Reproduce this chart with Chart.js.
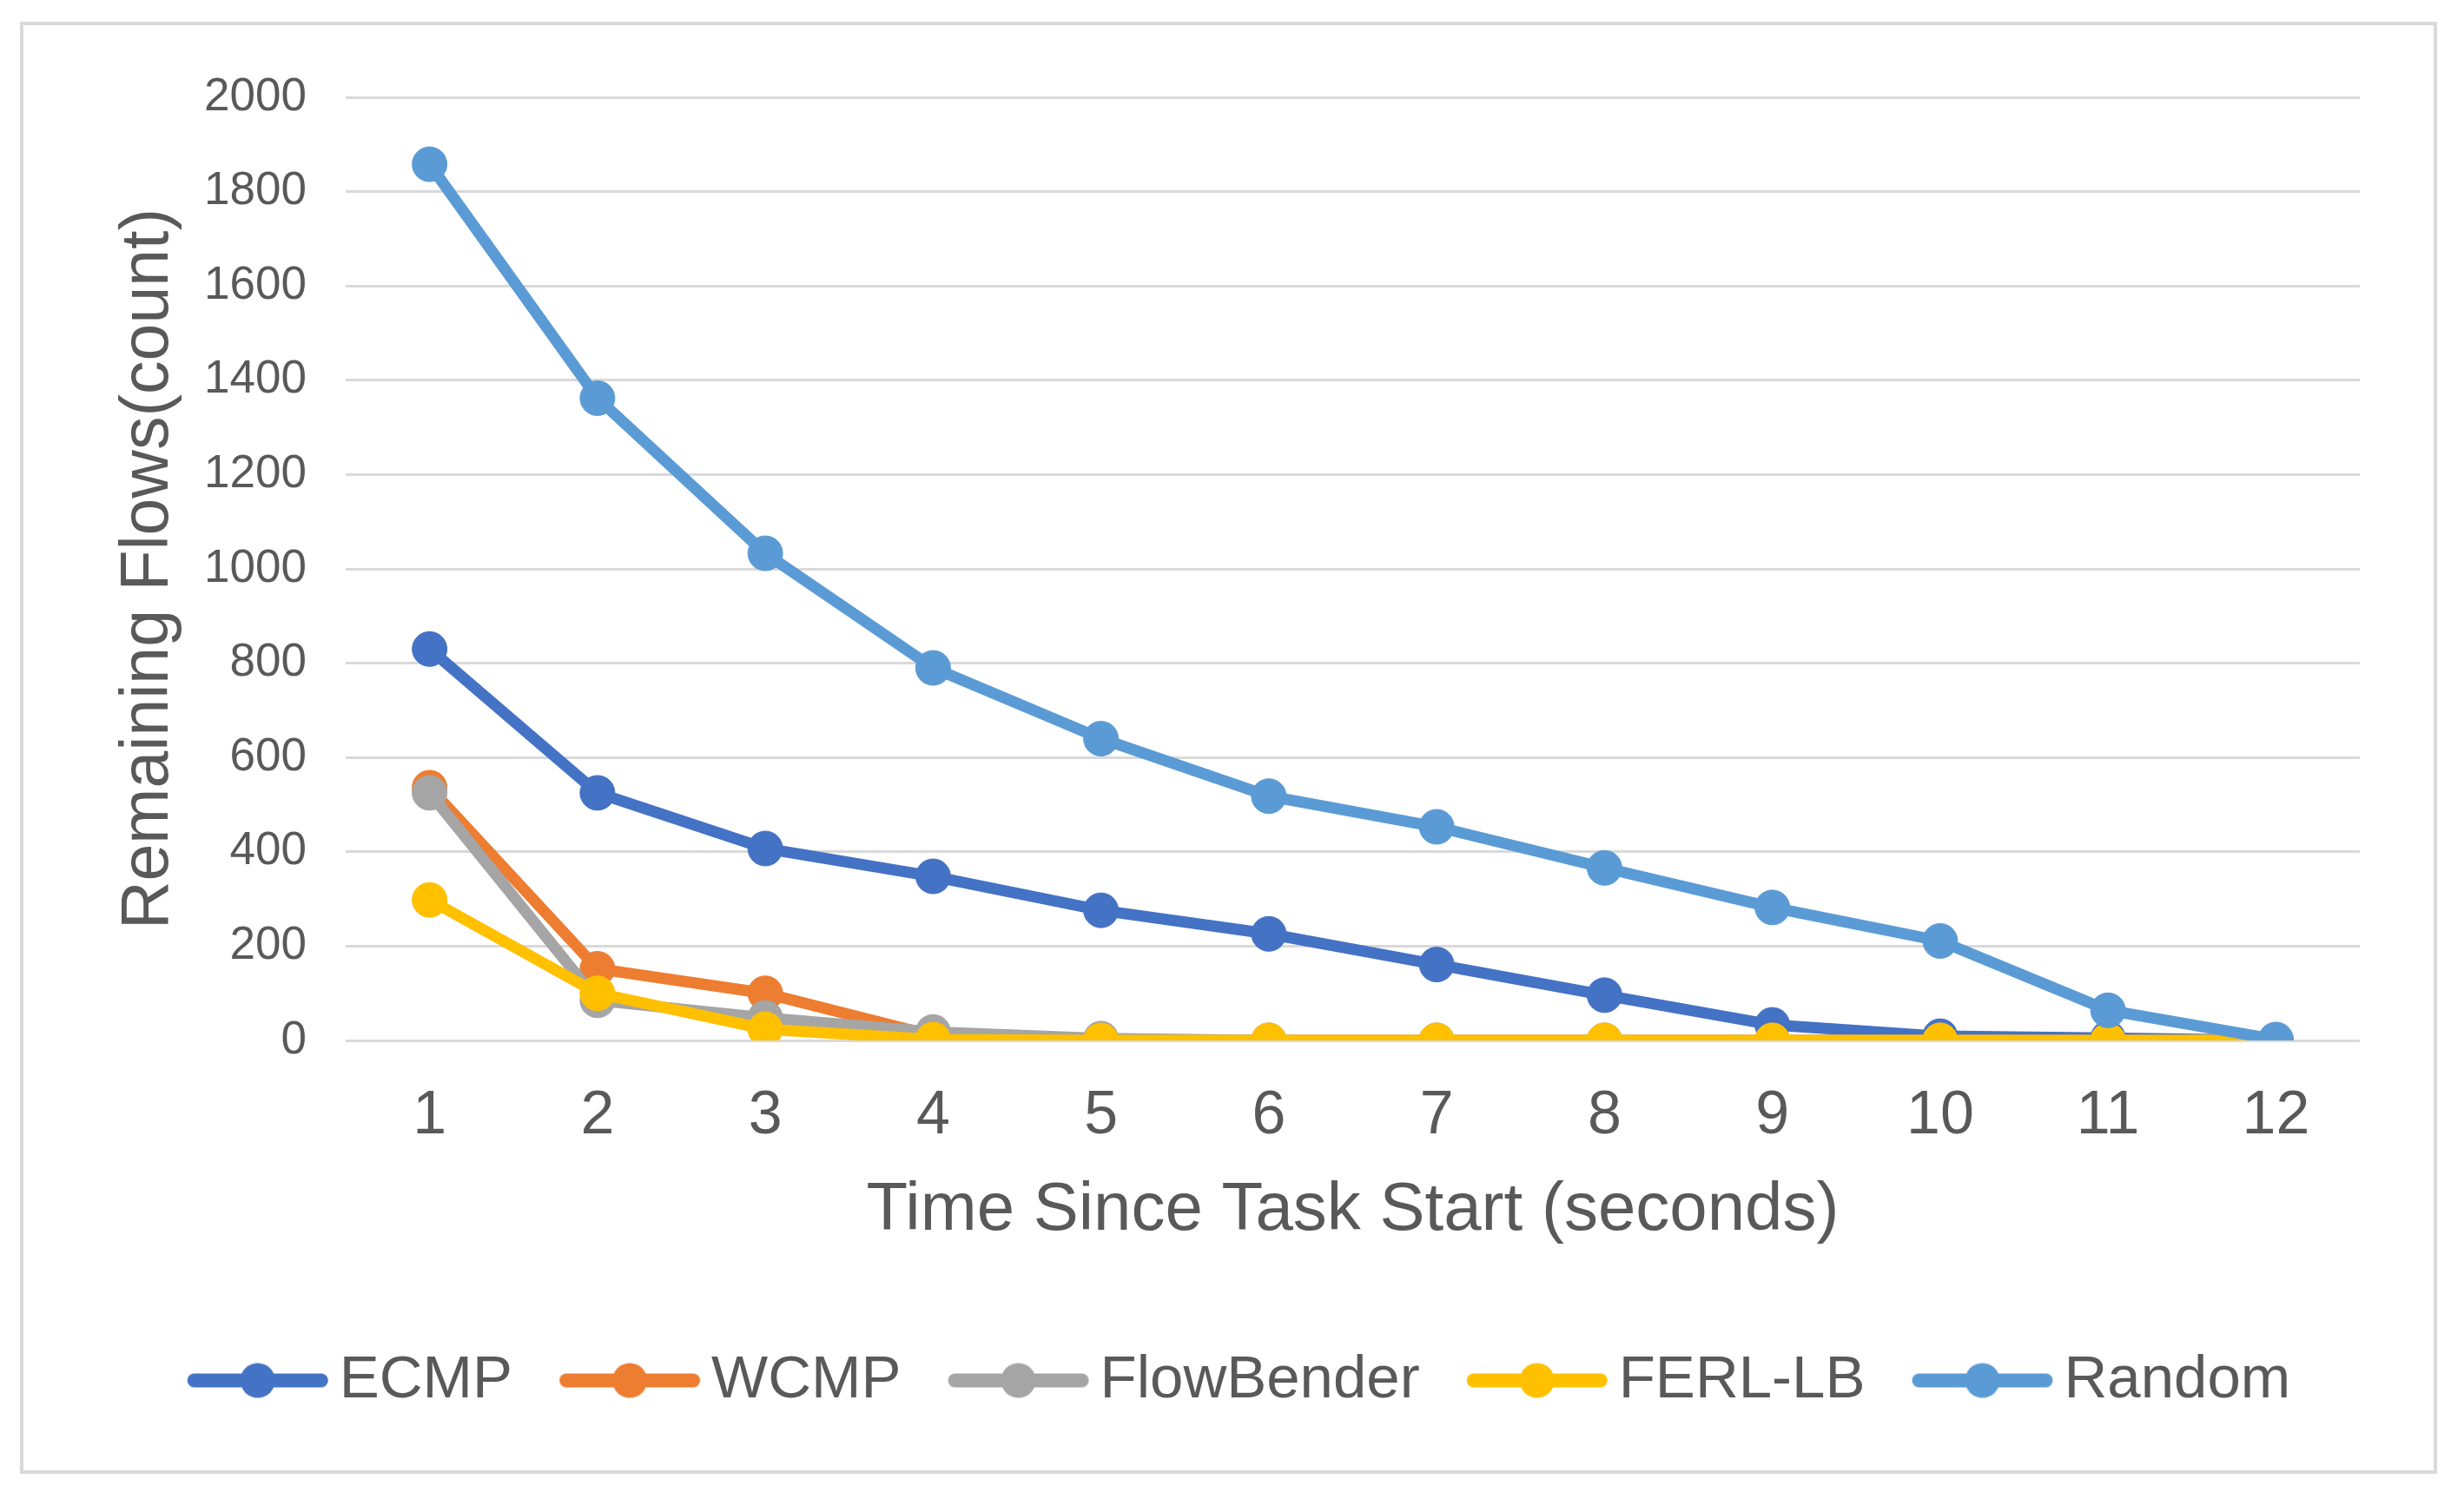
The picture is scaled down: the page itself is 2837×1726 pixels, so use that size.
<!DOCTYPE html>
<html>
<head>
<meta charset="utf-8">
<title>Remaining Flows</title>
<script src="https://cdn.jsdelivr.net/npm/chart.js@4.4.1/dist/chart.umd.min.js"></script>
<style>
  html, body { margin: 0; padding: 0; background: #fff; overflow: hidden; }
  canvas { display: block; }
</style>
</head>
<body>
<canvas id="flowChart" width="2837" height="1726"></canvas>
<script>
var seconds = ["1", "2", "3", "4", "5", "6", "7", "8", "9", "10", "11", "12"];
var ecmp       = [830, 525, 407, 348, 276, 226, 161, 96, 33, 9, 5, 0];
var wcmp       = [536, 152, 100, 10, 2, 0, 0, 0, 0, 0, 0, 0];
var flowBender = [525, 85, 48, 18, 4, 0, 0, 0, 0, 0, 0, 0];
var ferlLb     = [298, 100, 24, 2, 0, 0, 0, 0, 0, 0, 0, 0];
var random     = [1858, 1362, 1033, 790, 640, 518, 453, 366, 282, 211, 64, 2];

var seriesNames  = ["ECMP", "WCMP", "FlowBender", "FERL-LB", "Random"];
var seriesColors = ["#4472C4", "#ED7D31", "#A5A5A5", "#FFC000", "#5B9BD5"];

var textColor = "#595959";
Chart.defaults.font.family = "'Liberation Sans', Arial, sans-serif";
Chart.defaults.color = textColor;

// legend icon: short line with a marker in the middle, like the office legend
function legendIcon(color) {
    var c = document.createElement("canvas");
    c.width = 200;
    c.height = 44;
    var g = c.getContext("2d");
    g.strokeStyle = color;
    g.lineWidth = 16;
    g.lineCap = "round";
    g.beginPath();
    g.moveTo(36.75 + 8, 22);
    g.lineTo(198.75 - 8, 22);
    g.stroke();
    g.fillStyle = color;
    g.beginPath();
    g.arc(117.75, 22, 20, 0, Math.PI * 2);
    g.fill();
    return c;
}
var legendIcons = seriesColors.map(legendIcon);

function makeSeries(i, values) {
    return {
        label: seriesNames[i],
        data: values,
        borderColor: seriesColors[i],
        backgroundColor: seriesColors[i],
        pointBackgroundColor: seriesColors[i],
        pointBorderColor: seriesColors[i],
        borderWidth: 13,
        pointRadius: 20,
        pointHoverRadius: 20,
        pointBorderWidth: 1,
        tension: 0,
        fill: false,
        order: 5 - i
    };
}

var chartBorder = {
    id: "chartBorder",
    beforeDraw: function(chart) {
        var ctx = chart.ctx;
        ctx.save();
        ctx.fillStyle = "#ffffff";
        ctx.fillRect(0, 0, chart.width, chart.height);
        ctx.strokeStyle = "#D9D9D9";
        ctx.lineWidth = 4;
        ctx.strokeRect(25, 27, 2779, 1668);
        ctx.restore();
    }
};

new Chart(document.getElementById("flowChart"), {
    type: "line",
    data: {
        labels: seconds,
        datasets: [
            makeSeries(0, ecmp),
            makeSeries(1, wcmp),
            makeSeries(2, flowBender),
            makeSeries(3, ferlLb),
            makeSeries(4, random)
        ]
    },
    options: {
        responsive: false,
        animation: false,
        devicePixelRatio: 1,
        layout: {
            padding: { left: 122, right: 120, top: 112, bottom: 92 }
        },
        scales: {
            x: {
                offset: true,
                grid: { display: false },
                border: { display: false },
                ticks: {
                    color: textColor,
                    padding: 38,
                    font: { size: 70 }
                },
                title: {
                    display: true,
                    text: "Time Since Task Start (seconds)",
                    color: textColor,
                    font: { size: 78 },
                    padding: { top: 0, bottom: 74 }
                },
                afterFit: function(scale) { scale.height = 317; }
            },
            y: {
                min: 0,
                max: 2000,
                grid: {
                    color: "#D9D9D9",
                    lineWidth: 3,
                    drawTicks: false
                },
                border: { display: false },
                ticks: {
                    stepSize: 200,
                    color: textColor,
                    padding: 45,
                    font: { size: 53 },
                    callback: function(value) {
                        return String(value);
                    }
                },
                title: {
                    display: true,
                    text: "Remaining Flows(count)",
                    color: textColor,
                    font: { size: 77 },
                    padding: { top: 4, bottom: 0 }
                },
                afterFit: function(scale) { scale.width = 276; }
            }
        },
        plugins: {
            legend: {
                position: "bottom",
                labels: {
                    usePointStyle: true,
                    pointStyleWidth: 154.5,
                    padding: 40,
                    color: textColor,
                    font: { size: 69 },
                    sort: function(a, b) { return a.datasetIndex - b.datasetIndex; },
                    generateLabels: function(chart) {
                        var items = Chart.defaults.plugins.legend.labels.generateLabels(chart);
                        items.forEach(function(item) {
                            item.pointStyle = legendIcons[item.datasetIndex];
                        });
                        return items;
                    }
                }
            },
            tooltip: { enabled: false }
        }
    },
    plugins: [chartBorder]
});
</script>
</body>
</html>
